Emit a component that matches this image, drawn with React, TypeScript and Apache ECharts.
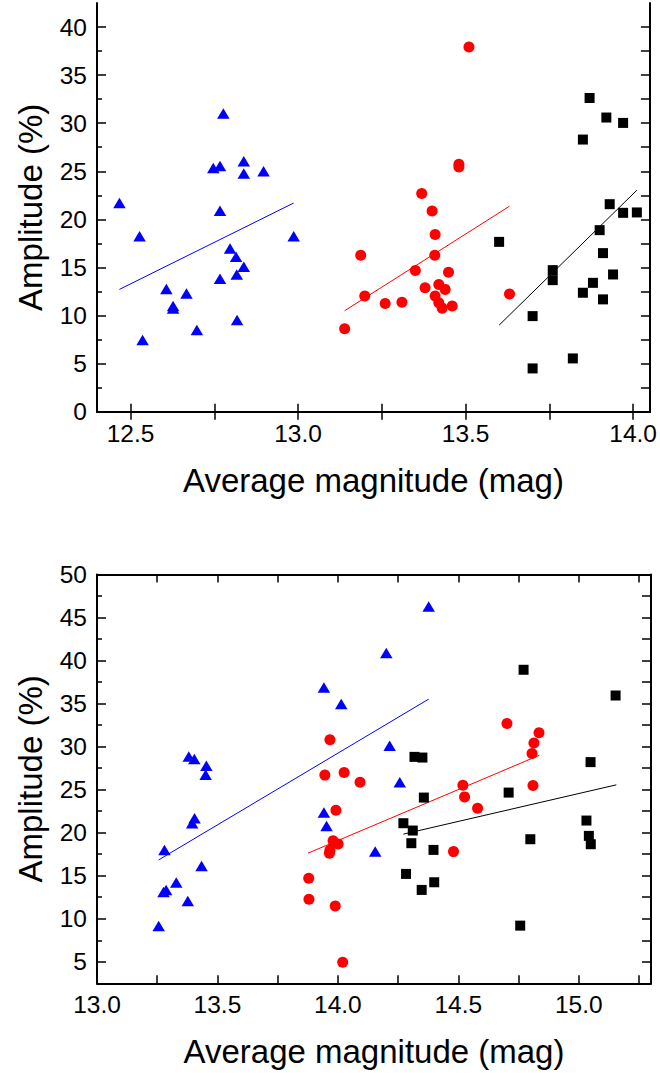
import React, { useEffect, useRef } from "react";
import * as echarts from "echarts";

// ---------- data ----------
const topBlue: number[][] = [
  [12.467, 21.7], [12.527, 18.25], [12.777, 31.0], [12.747, 25.35], [12.767, 25.56],
  [12.838, 26.05], [12.838, 24.77], [12.897, 25.0], [12.767, 20.9], [12.987, 18.25],
  [12.797, 16.98], [12.815, 16.1], [12.838, 15.07], [12.767, 13.82], [12.817, 14.27],
  [12.607, 12.75], [12.667, 12.3], [12.627, 11.0], [12.627, 10.74], [12.698, 8.49],
  [12.818, 9.53], [12.536, 7.45],
];
const topBlueFit: number[][] = [[12.467, 12.72], [12.987, 21.7]];

const topRed: number[][] = [
  [13.51, 37.92], [13.48, 25.73], [13.48, 25.45], [13.369, 22.69], [13.4, 20.88],
  [13.409, 18.43], [13.187, 16.28], [13.408, 16.28], [13.35, 14.69], [13.449, 14.51],
  [13.199, 12.02], [13.379, 12.88], [13.42, 13.23], [13.439, 12.72], [13.409, 12.02],
  [13.42, 11.33], [13.43, 10.77], [13.46, 10.98], [13.26, 11.26], [13.31, 11.37],
  [13.631, 12.23], [13.139, 8.62],
];
const topRedFit: number[][] = [[13.139, 10.5], [13.631, 21.37]];

const topBlack: number[][] = [
  [13.87, 32.62], [13.92, 30.59], [13.97, 30.03], [13.85, 28.3], [13.93, 21.58],
  [13.97, 20.68], [14.011, 20.72], [13.9, 18.88], [13.6, 17.66], [13.91, 16.49],
  [13.76, 14.72], [13.76, 13.68], [13.94, 14.27], [13.88, 13.4], [13.85, 12.37],
  [13.91, 11.68], [13.7, 9.94], [13.82, 5.54], [13.7, 4.5],
];
const topBlackFit: number[][] = [[13.6, 9.0], [14.011, 23.03]];

const botBlue: number[][] = [
  [13.381, 28.85], [13.404, 28.55], [13.454, 27.77], [13.451, 26.72], [13.942, 36.87],
  [13.942, 22.34], [14.377, 46.29], [14.201, 40.87], [14.014, 34.94], [14.215, 30.09],
  [14.257, 25.87], [13.405, 21.69], [13.395, 21.1], [13.953, 20.79], [13.28, 18.0],
  [13.434, 16.14], [13.329, 14.2], [13.287, 13.35], [13.276, 13.12], [13.377, 12.07],
  [13.256, 9.16], [14.155, 17.8],
];
const botBlueFit: number[][] = [[13.256, 16.84], [14.377, 35.52]];

const botRed: number[][] = [
  [13.967, 30.79], [13.946, 26.69], [14.026, 26.99], [14.092, 25.87], [13.992, 22.62],
  [14.702, 32.69], [14.835, 31.6], [14.814, 30.41], [14.806, 29.2], [14.81, 25.48],
  [14.519, 25.52], [14.526, 24.16], [14.58, 22.85], [13.98, 19.05], [14.001, 18.7],
  [13.967, 17.95], [13.965, 17.6], [14.48, 17.8], [13.989, 11.49], [14.02, 4.94],
  [13.879, 14.71], [13.88, 12.27],
];
const botRedFit: number[][] = [[13.876, 17.62], [14.837, 29.0]];

const botBlack: number[][] = [
  [14.771, 38.93], [15.153, 35.94], [14.318, 28.81], [14.351, 28.73], [15.049, 28.2],
  [14.709, 24.66], [14.357, 24.08], [14.272, 21.1], [14.311, 20.25], [15.032, 21.41],
  [15.042, 19.63], [15.05, 18.66], [14.799, 19.24], [14.305, 18.78], [14.397, 18.0],
  [14.283, 15.21], [14.4, 14.24], [14.348, 13.35], [14.757, 9.2],
];
const botBlackFit: number[][] = [[14.272, 19.83], [15.156, 25.56]];

// ---------- ticks / labels ----------
const topXTicks = [12.5, 12.75, 13.0, 13.25, 13.5, 13.75, 14.0];
const topXLabels = [12.5, 13.0, 13.5, 14.0];
const topYMajor = [0, 5, 10, 15, 20, 25, 30, 35, 40];
const topYMinor = [2.5, 7.5, 12.5, 17.5, 22.5, 27.5, 32.5, 37.5];
const topYRight = [2.5, 5, 7.5, 10, 12.5, 15, 17.5, 20, 22.5, 25, 27.5, 30, 32.5, 35, 37.5, 40];

const botXTicks = [13.0, 13.25, 13.5, 13.75, 14.0, 14.25, 14.5, 14.75, 15.0, 15.25];
const botXLabels = [13.0, 13.5, 14.0, 14.5, 15.0];
const botYMajor = [5, 10, 15, 20, 25, 30, 35, 40, 45, 50];
const botYMinor = [7.5, 12.5, 17.5, 22.5, 27.5, 32.5, 37.5, 42.5, 47.5];
const botYRight = [5, 7.5, 10, 12.5, 15, 17.5, 20, 22.5, 25, 27.5, 30, 32.5, 35, 37.5, 40, 42.5, 45, 47.5];

const xName = "Average magnitude (mag)";
const yName = "Amplitude (%)";

const FONT = "'Liberation Sans', Arial, sans-serif";
const AXIS_LINE = { show: true, lineStyle: { color: "#000", width: 2 } };

function xAxes(gridIndex: number, min: number, max: number, ticks: number[], labels: number[]) {
  return [
    {
      type: "value", gridIndex, position: "bottom", min, max,
      name: xName, nameLocation: "middle", nameGap: 52,
      nameTextStyle: { fontFamily: FONT, fontSize: 33, color: "#000" },
      axisLine: AXIS_LINE,
      axisTick: { show: true, inside: true, length: 8, customValues: ticks, lineStyle: { color: "#000", width: 1.5 } },
      axisLabel: {
        show: true, customValues: labels, margin: 9,
        fontFamily: FONT, fontSize: 24.5, color: "#000",
        formatter: (v: number) => v.toFixed(1),
      },
      splitLine: { show: false },
    },
    {
      type: "value", gridIndex, position: "top", min, max,
      axisLine: AXIS_LINE,
      axisTick: { show: true, inside: true, length: 8, customValues: ticks, lineStyle: { color: "#000", width: 1.5 } },
      axisLabel: { show: false },
      splitLine: { show: false },
    },
  ];
}

function yAxes(gridIndex: number, min: number, max: number, major: number[], minor: number[], right: number[]) {
  return [
    {
      type: "value", gridIndex, position: "left", offset: 0, min, max,
      name: yName, nameLocation: "middle", nameGap: 50,
      nameTextStyle: { fontFamily: FONT, fontSize: 33, color: "#000" },
      axisLine: AXIS_LINE,
      axisTick: { show: true, inside: true, length: 9, customValues: major, lineStyle: { color: "#000", width: 1.5 } },
      axisLabel: {
        show: true, customValues: major, margin: 10,
        fontFamily: FONT, fontSize: 24.5, color: "#000",
        formatter: (v: number) => String(v),
      },
      splitLine: { show: false },
    },
    {
      type: "value", gridIndex, position: "left", offset: 0, min, max,
      axisLine: { show: false },
      axisTick: { show: true, inside: true, length: 5, customValues: minor, lineStyle: { color: "#000", width: 1.5 } },
      axisLabel: { show: false },
      splitLine: { show: false },
    },
    {
      type: "value", gridIndex, position: "right", offset: 0, min, max,
      axisLine: AXIS_LINE,
      axisTick: { show: true, inside: true, length: 9, customValues: right, lineStyle: { color: "#000", width: 1.5 } },
      axisLabel: { show: false },
      splitLine: { show: false },
    },
  ];
}

function scatter(data: number[][], xi: number, yi: number, color: string, symbol: string, size: any) {
  return {
    type: "scatter", xAxisIndex: xi, yAxisIndex: yi, data,
    symbol, symbolSize: size,
    itemStyle: { color, opacity: 1 },
    z: 3,
  };
}
function fit(data: number[][], xi: number, yi: number, color: string) {
  return {
    type: "line", xAxisIndex: xi, yAxisIndex: yi, data,
    showSymbol: false, symbol: "none",
    lineStyle: { color, width: 1 },
    z: 2,
  };
}

export default function App() {
  const ref = useRef<HTMLDivElement>(null);
  useEffect(() => {
    if (!ref.current) return;
    const chart = echarts.init(ref.current, undefined, { renderer: "svg" });
    const tri = [12.5, 10.5];
    chart.setOption({
      animation: false,
      backgroundColor: "#fff",
      grid: [
        { left: 97, top: 3, width: 554, height: 408.7 },
        { left: 97, top: 574.5, width: 554, height: 408.8 },
      ],
      xAxis: [
        ...xAxes(0, 12.4, 14.05, topXTicks, topXLabels),
        ...xAxes(1, 13.0, 15.3, botXTicks, botXLabels),
      ],
      yAxis: [
        ...yAxes(0, 0, 42.5, topYMajor, topYMinor, topYRight),
        ...yAxes(1, 2.5, 50, botYMajor, botYMinor, botYRight),
      ],
      series: [
        fit(topBlueFit, 0, 0, "#0000ff"),
        fit(topRedFit, 0, 0, "#ff0000"),
        fit(topBlackFit, 0, 0, "#000000"),
        scatter(topBlue, 0, 0, "#0000ff", "triangle", tri),
        scatter(topRed, 0, 0, "#ff0000", "circle", 11),
        scatter(topBlack, 0, 0, "#000000", "rect", 10),
        fit(botBlueFit, 2, 3, "#0000ff"),
        fit(botRedFit, 2, 3, "#ff0000"),
        fit(botBlackFit, 2, 3, "#000000"),
        scatter(botBlue, 2, 3, "#0000ff", "triangle", tri),
        scatter(botRed, 2, 3, "#ff0000", "circle", 11),
        scatter(botBlack, 2, 3, "#000000", "rect", 10),
      ],
    });
    return () => chart.dispose();
  }, []);
  return (
    <div
      ref={ref}
      style={{ position: "fixed", left: 0, top: 0, width: 660, height: 1073, background: "#fff" }}
    />
  );
}
